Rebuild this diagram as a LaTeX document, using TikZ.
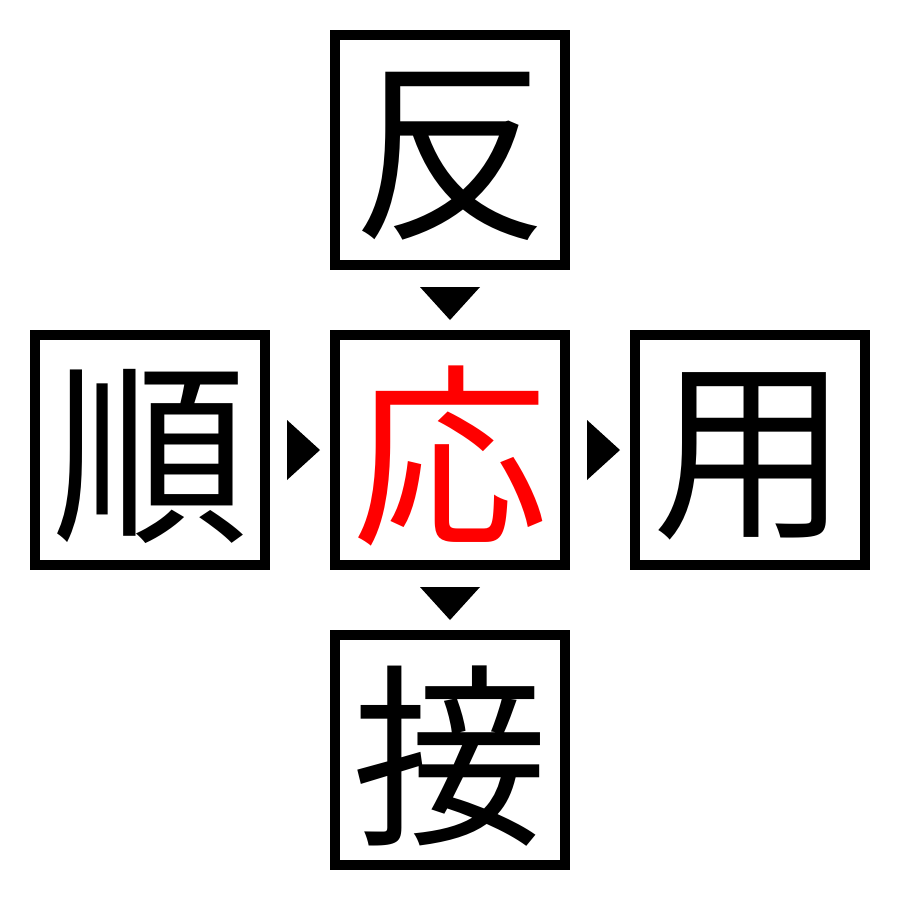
\documentclass[tikz,border=0pt]{standalone}
\usepackage{fontspec}
\newfontfamily\jp{Noto Sans CJK JP}
\usetikzlibrary{calc}
\newcommand{\kjglyph}[1]{\raisebox{-6pt}[\height][\depth]{#1}}
\begin{document}
\begin{tikzpicture}[x=1pt,y=-1pt,
  box/.style={draw,line width=10pt,minimum size=230pt,inner sep=0pt,
    font=\jp\fontsize{196}{196}\selectfont},
  tri/.style={fill=black}]
\useasboundingbox[fill=white] (0,0) rectangle (900,900);
\node[box] (top) at (450,150) {\kjglyph{反}};
\node[box] (left) at (150,450) {\kjglyph{順}};
\node[box,text=red] (mid) at (450,450) {\kjglyph{応}};
\node[box] (right) at (750,450) {\kjglyph{用}};
\node[box] (bot) at (450,750) {\kjglyph{接}};
% arrows
\fill[tri] ($(top.south)+(-30,17)$) -- ($(top.south)+(30,17)$) -- ($(mid.north)+(0,-10)$) -- cycle;
\fill[tri] ($(mid.south)+(-30,17)$) -- ($(mid.south)+(30,17)$) -- ($(bot.north)+(0,-10)$) -- cycle;
\fill[tri] ($(left.east)+(17,-30)$) -- ($(left.east)+(17,30)$) -- ($(mid.west)+(-10,0)$) -- cycle;
\fill[tri] ($(mid.east)+(17,-30)$) -- ($(mid.east)+(17,30)$) -- ($(right.west)+(-10,0)$) -- cycle;
\end{tikzpicture}
\end{document}
